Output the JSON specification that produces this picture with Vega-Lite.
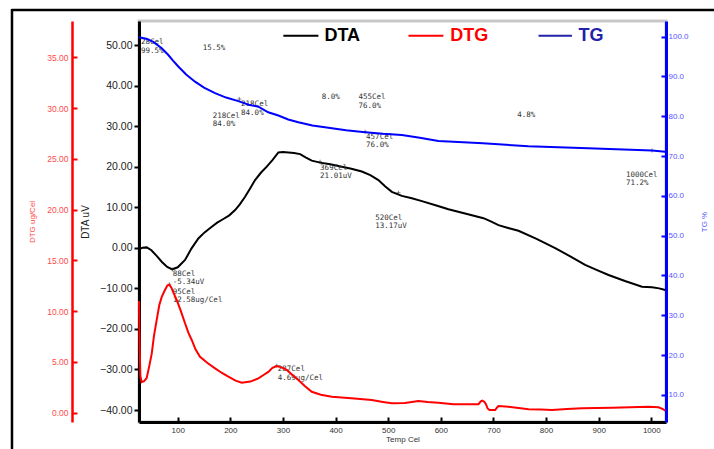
{
  "$schema": "https://vega.github.io/schema/vega-lite/v6.json",
  "width": 527,
  "height": 401,
  "autosize": {"type": "none"},
  "padding": {"left": 139, "top": 21, "right": 48, "bottom": 27},
  "background": "white",
  "config": {
    "view": {"stroke": "#c8c8c8", "strokeWidth": 3},
    "axis": {"labelFont": "Liberation Sans", "titleFont": "Liberation Sans", "grid": false, "titleFontWeight": "normal"}
  },
  "datasets": {
    "dta": [
      {"t": 26.4, "v": -0.3}, {"t": 33, "v": 0.0}, {"t": 41, "v": 0.1}, {"t": 50, "v": -0.6}, {"t": 60, "v": -2.0},
      {"t": 70, "v": -3.5}, {"t": 80, "v": -4.7}, {"t": 89.7, "v": -5.3}, {"t": 100, "v": -4.8}, {"t": 113.9, "v": -3.0},
      {"t": 126, "v": -0.2}, {"t": 139.2, "v": 2.3}, {"t": 151, "v": 3.8}, {"t": 164.7, "v": 5.2}, {"t": 175, "v": 6.2},
      {"t": 186.7, "v": 7.1}, {"t": 198, "v": 8.0}, {"t": 209, "v": 9.3}, {"t": 218, "v": 10.7}, {"t": 228, "v": 12.6},
      {"t": 237, "v": 14.5}, {"t": 247, "v": 16.7}, {"t": 258, "v": 18.5}, {"t": 269.2, "v": 20.0}, {"t": 280, "v": 21.6},
      {"t": 291.3, "v": 23.5}, {"t": 300, "v": 23.6}, {"t": 310.3, "v": 23.5}, {"t": 321, "v": 23.4}, {"t": 332.6, "v": 23.1},
      {"t": 343, "v": 22.3}, {"t": 354.8, "v": 21.5}, {"t": 370.6, "v": 21.0}, {"t": 390, "v": 20.6}, {"t": 411.8, "v": 20.0},
      {"t": 430, "v": 19.5}, {"t": 449.9, "v": 18.8}, {"t": 466, "v": 17.9}, {"t": 481.4, "v": 16.7}, {"t": 494, "v": 15.2},
      {"t": 506.9, "v": 13.8}, {"t": 525.9, "v": 12.8}, {"t": 545, "v": 12.2}, {"t": 564, "v": 11.5}, {"t": 590, "v": 10.5},
      {"t": 614.5, "v": 9.5}, {"t": 648, "v": 8.4}, {"t": 681.1, "v": 7.3}, {"t": 695, "v": 6.5}, {"t": 709.6, "v": 5.6},
      {"t": 728, "v": 4.9}, {"t": 747.6, "v": 4.2}, {"t": 782, "v": 2.2}, {"t": 817.4, "v": -0.1}, {"t": 846, "v": -2.1},
      {"t": 874.3, "v": -4.2}, {"t": 897, "v": -5.5}, {"t": 918.8, "v": -6.7}, {"t": 950, "v": -8.2}, {"t": 982.3, "v": -9.6},
      {"t": 1001.3, "v": -9.7}, {"t": 1015, "v": -10.0}, {"t": 1026.6, "v": -10.4}
    ],
    "dtg": [
      {"t": 26.4, "v": 11.0}, {"t": 27.5, "v": 7.0}, {"t": 29, "v": 3.6}, {"t": 31.5, "v": 3.0}, {"t": 36, "v": 3.1},
      {"t": 41, "v": 3.4}, {"t": 46, "v": 4.6}, {"t": 50.6, "v": 5.8}, {"t": 55, "v": 7.6}, {"t": 60, "v": 9.1},
      {"t": 65, "v": 10.6}, {"t": 69.6, "v": 11.4}, {"t": 75, "v": 12.0}, {"t": 80, "v": 12.5}, {"t": 84, "v": 12.6},
      {"t": 88, "v": 12.3}, {"t": 92, "v": 11.8}, {"t": 98, "v": 11.1}, {"t": 106, "v": 10.0}, {"t": 113.9, "v": 8.8},
      {"t": 120, "v": 7.9}, {"t": 126.6, "v": 7.15}, {"t": 134, "v": 6.2}, {"t": 142.4, "v": 5.5}, {"t": 156, "v": 4.9},
      {"t": 171, "v": 4.36}, {"t": 184, "v": 3.9}, {"t": 196.2, "v": 3.53}, {"t": 210, "v": 3.15}, {"t": 221.7, "v": 2.94},
      {"t": 238, "v": 3.05}, {"t": 253.3, "v": 3.37}, {"t": 263, "v": 3.7}, {"t": 272.3, "v": 4.0}, {"t": 280, "v": 4.4},
      {"t": 288.2, "v": 4.59}, {"t": 297, "v": 4.45}, {"t": 307.3, "v": 4.2}, {"t": 318, "v": 3.7}, {"t": 329.3, "v": 3.2},
      {"t": 342, "v": 2.6}, {"t": 354.8, "v": 2.05}, {"t": 372, "v": 1.75}, {"t": 392.8, "v": 1.56}, {"t": 430, "v": 1.4},
      {"t": 468.9, "v": 1.24}, {"t": 490, "v": 1.05}, {"t": 506.9, "v": 0.91}, {"t": 532, "v": 0.95}, {"t": 557.5, "v": 1.14},
      {"t": 575, "v": 1.05}, {"t": 595.5, "v": 0.97}, {"t": 624, "v": 0.81}, {"t": 650, "v": 0.81}, {"t": 671.6, "v": 0.83},
      {"t": 676, "v": 1.1}, {"t": 679, "v": 1.17}, {"t": 683, "v": 1.05}, {"t": 686, "v": 0.8}, {"t": 689, "v": 0.4},
      {"t": 692.5, "v": 0.25}, {"t": 703.3, "v": 0.25}, {"t": 707, "v": 0.5}, {"t": 709.6, "v": 0.64}, {"t": 728.6, "v": 0.58},
      {"t": 766.7, "v": 0.32}, {"t": 790, "v": 0.3}, {"t": 811.2, "v": 0.25}, {"t": 840, "v": 0.35}, {"t": 868.2, "v": 0.42},
      {"t": 925.3, "v": 0.48}, {"t": 960, "v": 0.53}, {"t": 994.9, "v": 0.58}, {"t": 1013.9, "v": 0.52}, {"t": 1022, "v": 0.35},
      {"t": 1026.6, "v": 0.18}
    ],
    "tg": [
      {"t": 26.4, "v": 99.85}, {"t": 40, "v": 99.5}, {"t": 53.6, "v": 98.7}, {"t": 69.6, "v": 97.1}, {"t": 82.1, "v": 95.4},
      {"t": 91, "v": 94.0}, {"t": 101.1, "v": 92.5}, {"t": 116, "v": 90.5}, {"t": 132.9, "v": 88.7}, {"t": 150, "v": 87.2},
      {"t": 170.9, "v": 85.8}, {"t": 192, "v": 84.7}, {"t": 215.2, "v": 83.8}, {"t": 235, "v": 82.9}, {"t": 253.3, "v": 82.4},
      {"t": 272, "v": 81.0}, {"t": 291.3, "v": 80.2}, {"t": 310, "v": 79.2}, {"t": 329.3, "v": 78.5}, {"t": 356, "v": 77.7},
      {"t": 386.4, "v": 77.1}, {"t": 420, "v": 76.5}, {"t": 456.2, "v": 76.0}, {"t": 490, "v": 75.6}, {"t": 525.9, "v": 75.3},
      {"t": 560, "v": 74.6}, {"t": 595.5, "v": 73.8}, {"t": 680, "v": 73.2}, {"t": 766.7, "v": 72.5}, {"t": 880, "v": 72.0},
      {"t": 1001.3, "v": 71.4}, {"t": 1026.6, "v": 71.1}
    ],
    "notes": [
      {"t": 30.2, "y": 51.65, "label": "28Cel\n99.5%"},
      {"t": 147.5, "y": 50.25, "label": "15.5%"},
      {"t": 166.6, "y": 33.56, "label": "218Cel\n84.0%"},
      {"t": 220.4, "y": 36.37, "label": "218Cel\n84.0%"},
      {"t": 373.8, "y": 38.09, "label": "8.0%"},
      {"t": 443.4, "y": 38.09, "label": "455Cel\n76.0%"},
      {"t": 458.0, "y": 28.38, "label": "457Cel\n76.0%"},
      {"t": 745.2, "y": 33.73, "label": "4.8%"},
      {"t": 951.9, "y": 18.93, "label": "1000Cel\n71.2%"},
      {"t": 370.6, "y": 20.73, "label": "369Cel\n21.01uV"},
      {"t": 475.2, "y": 8.41, "label": "520Cel\n13.17uV"},
      {"t": 90.5, "y": -5.35, "label": "88Cel\n-5.34uV"},
      {"t": 90.5, "y": -9.8, "label": "95Cel\n12.58ug/Cel"},
      {"t": 290.2, "y": -28.97, "label": "287Cel\n4.69ug/Cel"}
    ],
    "markers": [
      {"t": 217.1, "y": 36.69}, {"t": 456.2, "y": 28.62}, {"t": 1001.3, "y": 23.99},
      {"t": 370.6, "y": 21.23}, {"t": 519.5, "y": 13.58}, {"t": 89.7, "y": -5.35},
      {"t": 84, "y": -9.0}, {"t": 288.2, "y": -29.07}
    ],
    "legend": [
      {"series": "DTA", "t": 300.8, "t2": 367.4, "tl": 378.8, "y": 52.29},
      {"series": "DTG", "t": 538.5, "t2": 605.0, "tl": 617.8, "y": 52.29},
      {"series": "TG", "t": 785.7, "t2": 849.2, "tl": 861.7, "y": 52.29}
    ]
  },
  "layer": [
    {
      "layer": [
        {
          "data": {"name": "dta"},
          "mark": {"type": "line", "color": "black", "strokeWidth": 2, "clip": true},
          "encoding": {
            "x": {"field": "t", "type": "quantitative", "scale": {"domain": [26.4, 1028], "nice": false, "zero": false},
              "axis": {"title": "Temp Cel", "values": [100, 200, 300, 400, 500, 600, 700, 800, 900, 1000], "format": "d",
                "domainColor": "black", "domainWidth": 3, "tickColor": "black", "tickWidth": 2, "tickSize": -5,
                "labelFontSize": 8, "labelColor": "#333", "labelPadding": 9, "titleFontSize": 8, "titleColor": "#333", "titlePadding": 1}},
            "y": {"field": "v", "type": "quantitative", "scale": {"domain": [-42.95, 55.92], "nice": false, "zero": false},
              "axis": {"title": "DTA uV", "values": [-40, -30, -20, -10, 0, 10, 20, 30, 40, 50], "format": ".2f",
                "domainColor": "black", "domainWidth": 3, "tickColor": "black", "tickWidth": 2, "tickSize": 5,
                "labelFontSize": 10.5, "labelColor": "#222", "labelPadding": 2, "titleFontSize": 10, "titleColor": "#222", "titlePadding": 9}}
          }
        },
        {
          "data": {"name": "notes"},
          "mark": {"type": "text", "align": "left", "baseline": "top", "lineBreak": "\n", "lineHeight": 8.4, "font": "DejaVu Sans Mono", "fontSize": 7.5, "color": "#333"},
          "encoding": {
            "x": {"field": "t", "type": "quantitative", "title": "Temp Cel"},
            "y": {"field": "y", "type": "quantitative", "title": "DTA uV"},
            "text": {"field": "label"}
          }
        },
        {
          "data": {"name": "markers"},
          "mark": {"type": "point", "shape": "M-1,0L1,0M0,-1L0,1", "size": 16, "filled": false, "stroke": "#222", "strokeWidth": 0.8},
          "encoding": {
            "x": {"field": "t", "type": "quantitative", "title": "Temp Cel"},
            "y": {"field": "y", "type": "quantitative", "title": "DTA uV"}
          }
        },
        {
          "data": {"name": "legend"},
          "mark": {"type": "rule", "strokeWidth": 2},
          "encoding": {
            "x": {"field": "t", "type": "quantitative", "title": "Temp Cel"},
            "x2": {"field": "t2"},
            "y": {"field": "y", "type": "quantitative", "title": "DTA uV"},
            "color": {"field": "series", "type": "nominal", "scale": {"domain": ["DTA", "DTG", "TG"], "range": ["black", "red", "#2222aa"]}, "legend": null}
          }
        },
        {
          "data": {"name": "legend"},
          "mark": {"type": "text", "align": "left", "baseline": "middle", "font": "Liberation Sans", "fontWeight": "bold", "fontSize": 18},
          "encoding": {
            "x": {"field": "tl", "type": "quantitative", "title": "Temp Cel"},
            "y": {"field": "y", "type": "quantitative", "title": "DTA uV"},
            "text": {"field": "series"},
            "color": {"field": "series", "type": "nominal", "scale": {"domain": ["DTA", "DTG", "TG"], "range": ["black", "red", "#2222aa"]}, "legend": null}
          }
        },
        {
          "data": {"values": [{}]},
          "mark": {"type": "rule", "color": "black", "strokeWidth": 2.5},
          "encoding": {
            "x": {"datum": -215},
            "y": {"datum": 58.9},
            "y2": {"datum": -50}
          }
        },
        {
          "data": {"values": [{}]},
          "mark": {"type": "rule", "color": "black", "strokeWidth": 2.5},
          "encoding": {
            "x": {"datum": -215.5},
            "x2": {"datum": 1125},
            "y": {"datum": 58.63}
          }
        }
      ]
    },
    {
      "data": {"name": "dtg"},
      "mark": {"type": "line", "color": "red", "strokeWidth": 2},
      "encoding": {
        "x": {"field": "t", "type": "quantitative", "title": "Temp Cel"},
        "y": {"field": "v", "type": "quantitative", "scale": {"domain": [-0.93, 38.58], "nice": false, "zero": false},
          "axis": {"orient": "left", "offset": 67, "title": "DTG ug/Cel", "values": [0, 5, 10, 15, 20, 25, 30, 35], "format": ".2f",
            "domainColor": "red", "domainWidth": 2.5, "tickColor": "red", "tickWidth": 2, "tickSize": -5,
            "labelFontSize": 8.5, "labelColor": "#ff4a4a", "labelPadding": 9, "titleFontSize": 8, "titleColor": "#ff4a4a", "titlePadding": 10}}
      }
    },
    {
      "data": {"name": "tg"},
      "mark": {"type": "line", "color": "#0000ff", "strokeWidth": 2},
      "encoding": {
        "x": {"field": "t", "type": "quantitative", "title": "Temp Cel"},
        "y": {"field": "v", "type": "quantitative", "scale": {"domain": [3.19, 103.94], "nice": false, "zero": false},
          "axis": {"orient": "right", "title": "TG %", "values": [10, 20, 30, 40, 50, 60, 70, 80, 90, 100], "format": ".1f",
            "domainColor": "#0000ff", "domainWidth": 3, "tickColor": "#0000ff", "tickWidth": 2, "tickSize": -5,
            "labelFontSize": 8, "labelColor": "#5555ff", "labelPadding": 7, "titleFontSize": 8, "titleColor": "#5555ff", "titlePadding": 20, "titleAngle": 270}}
      }
    }
  ],
  "resolve": {"scale": {"y": "independent"}, "axis": {"y": "independent"}}
}
